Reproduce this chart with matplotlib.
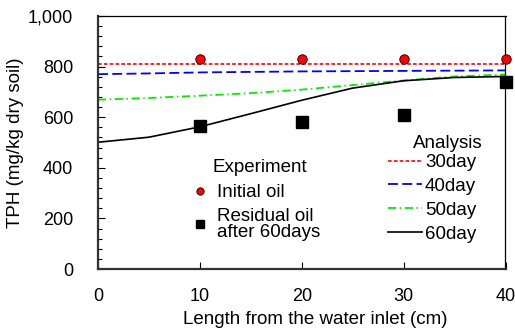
import matplotlib.pyplot as plt
import numpy as np

plt.rcParams['font.family'] = ['Liberation Sans', 'DejaVu Sans']
FS = 13.5

# experiment points
x_exp = [10, 20, 30, 40]
initial_oil = [829, 829, 829, 829]
residual_oil = [564, 580, 610, 739]

# analysis curves
x_sim = [0, 5, 10, 15, 20, 25, 30, 35, 40]
day30 = [810, 810, 810, 810, 810, 810, 810, 810, 810]
day40 = [770, 773, 777, 779, 781, 782, 783, 784, 785]
day50 = [669, 676, 685, 695, 709, 727, 745, 761, 769]
day60 = [501, 521, 562, 614, 667, 715, 744, 757, 761]

fig = plt.figure(figsize=(5.15, 3.34), dpi=100)
ax = fig.add_axes([98/515, 1-269/334, (505.5-98)/515, (269-16)/334])

l30, = ax.plot(x_sim, day30, color='#ff0000', lw=1.2, ls=(0, (2.2, 1.3)), label='30day')
l40, = ax.plot(x_sim, day40, color='#0000ff', lw=1.3, ls=(0, (5.5, 2.4)), label='40day')
l50, = ax.plot(x_sim, day50, color='#00ee00', lw=1.3, ls=(0, (4.5, 2, 0.8, 2)), label='50day')
l60, = ax.plot(x_sim, day60, color='black', lw=1.2, label='60day')

p1, = ax.plot(x_exp, initial_oil, 'o', ms=6.8, mfc='#ff0000', mec='black', mew=0.6,
              clip_on=False, zorder=5, label='Initial oil')
p2, = ax.plot(x_exp, residual_oil, 's', ms=8, color='black', clip_on=False, zorder=5,
              label='Residual oil\nafter 60days')

ax.set_xlim(0, 40)
ax.set_ylim(0, 1000)
ax.set_xticks([0, 10, 20, 30, 40])
ax.set_yticks([0, 200, 400, 600, 800, 1000])
ax.set_yticklabels(['0', '200', '400', '600', '800', '1,000'])
ax.set_yticks(np.arange(0, 1000, 40), minor=True)
ax.tick_params(axis='both', direction='in', labelsize=13, length=5, width=0.8)
ax.tick_params(axis='y', which='minor', direction='in', length=3, width=0.8)
ax.tick_params(axis='x', pad=14)
ax.tick_params(axis='y', pad=18)

for s in ['left', 'bottom']:
    ax.spines[s].set_linewidth(1.6)
    ax.spines[s].set_color('#333333')
for s in ['top', 'right']:
    ax.spines[s].set_linewidth(0.9)

ax.set_xlabel('Length from the water inlet (cm)', fontsize=FS)
ax.xaxis.set_label_coords((315-98)/407.5, -(311-269)/253)
ax.set_ylabel('TPH (mg/kg dry soil)', fontsize=FS)
ax.yaxis.set_label_coords((24-98)/407.5, 0.5)

# legend titles as plain text
ax.text((260-98)/407.5, (269-167)/253, 'Experiment', fontsize=FS,
        ha='center', va='center', transform=ax.transAxes)
ax.text((447.5-98)/407.5, (269-143)/253, 'Analysis', fontsize=FS,
        ha='center', va='center', transform=ax.transAxes)

leg1 = ax.legend(handles=[p1, p2], frameon=False, fontsize=FS,
                 handlelength=0.8, handletextpad=0.5, labelspacing=0.35,
                 loc='upper left', bbox_to_anchor=(192.5/515, 1-184/334),
                 bbox_transform=fig.transFigure, borderaxespad=0, borderpad=0)
leg1.legend_handles[0].set_markersize(5.3)
leg1.legend_handles[1].set_markersize(5.3)
for t in leg1.get_texts():
    t.set_linespacing(0.95)
ax.add_artist(leg1)

leg2 = ax.legend(handles=[l30, l40, l50, l60], frameon=False, fontsize=FS,
                 handlelength=1.81, handletextpad=0.16, labelspacing=0.36,
                 loc='upper left', bbox_to_anchor=(388/515, 1-154/334),
                 bbox_transform=fig.transFigure, borderaxespad=0, borderpad=0)

fig.savefig('out.png', dpi=100)
